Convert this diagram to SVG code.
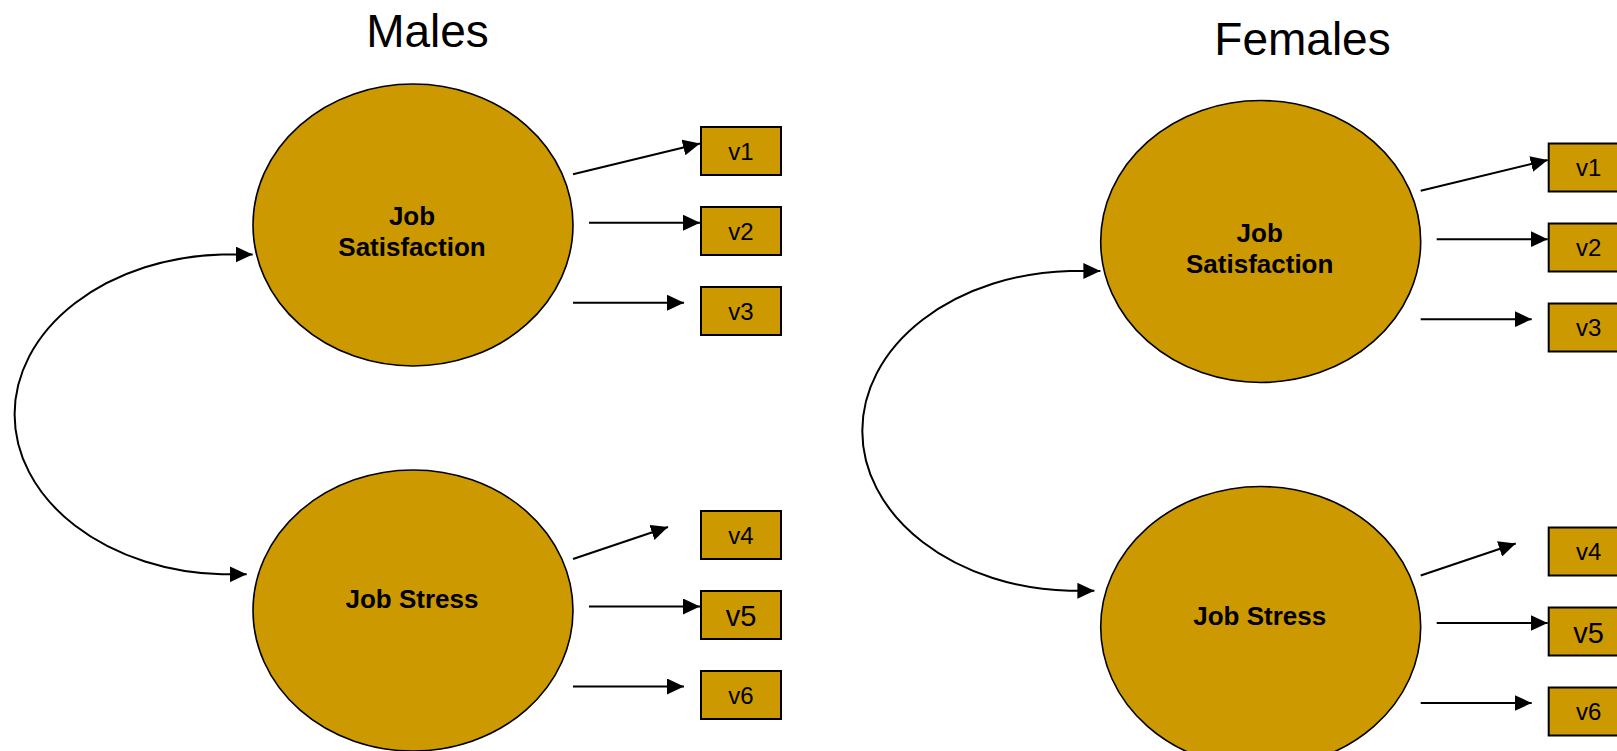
<svg xmlns="http://www.w3.org/2000/svg" width="1617" height="751" viewBox="0 0 1617 751">
  <defs>
    <marker id="ah" markerUnits="userSpaceOnUse" markerWidth="18" markerHeight="16" refX="17" refY="8" orient="auto-start-reverse">
      <path d="M0,0 L17,8 L0,16 z" fill="#000"/>
    </marker>
    <style>
      .lat { fill: #CC9900; stroke: #000; stroke-width: 1.6; }
      .box { fill: #CC9900; stroke: #000; stroke-width: 2; }
      .lbl { font-family: "Liberation Sans", Arial, sans-serif; font-weight: bold; font-size: 26px; fill: #000; text-anchor: middle; }
      .v { font-family: "Liberation Sans", Arial, sans-serif; font-size: 24px; fill: #000; text-anchor: middle; }
      .vbig { font-size: 29px; }
      .title { font-family: "Liberation Sans", Arial, sans-serif; font-size: 46px; fill: #000; text-anchor: middle; }
      .arr { fill: none; stroke: #000; stroke-width: 2; marker-end: url(#ah); }
      .cov { fill: none; stroke: #000; stroke-width: 2; marker-start: url(#ah); marker-end: url(#ah); }
    </style>
  </defs>
  <rect width="1617" height="751" fill="#fff"/>

  <text class="title" x="427.5" y="46.7">Males</text>
  <text class="title" x="1302.5" y="54.5">Females</text>

  <!-- Males panel nodes -->
  <g id="m-jobsat">
    <ellipse class="lat" cx="413" cy="225" rx="160" ry="141"/>
    <text class="lbl" x="412" y="225">Job</text>
    <text class="lbl" x="412" y="256">Satisfaction</text>
  </g>
  <g id="m-jobstress">
    <ellipse class="lat" cx="413" cy="610.5" rx="160" ry="140.5"/>
    <text class="lbl" x="412" y="608">Job Stress</text>
  </g>
  <g id="m-v1"><rect class="box" x="701" y="127" width="80" height="48"/><text class="v" x="741" y="159.5">v1</text></g>
  <g id="m-v2"><rect class="box" x="701" y="207" width="80" height="48"/><text class="v" x="741" y="239.5">v2</text></g>
  <g id="m-v3"><rect class="box" x="701" y="287" width="80" height="48"/><text class="v" x="741" y="319.5">v3</text></g>
  <g id="m-v4"><rect class="box" x="701" y="511" width="80" height="48"/><text class="v" x="741" y="543.5">v4</text></g>
  <g id="m-v5"><rect class="box" x="701" y="591" width="80" height="48"/><text class="v vbig" x="741" y="626">v5</text></g>
  <g id="m-v6"><rect class="box" x="701" y="671" width="80" height="48"/><text class="v" x="741" y="703.5">v6</text></g>

  <!-- Females panel nodes -->
  <g transform="translate(847.7,16.5)">
    <g id="f-jobsat">
      <ellipse class="lat" cx="413" cy="225" rx="160" ry="141"/>
      <text class="lbl" x="412" y="225">Job</text>
      <text class="lbl" x="412" y="256">Satisfaction</text>
    </g>
    <g id="f-jobstress">
      <ellipse class="lat" cx="413" cy="610.5" rx="160" ry="140.5"/>
      <text class="lbl" x="412" y="608">Job Stress</text>
    </g>
    <g id="f-v1"><rect class="box" x="701" y="127" width="80" height="48"/><text class="v" x="741" y="159.5">v1</text></g>
    <g id="f-v2"><rect class="box" x="701" y="207" width="80" height="48"/><text class="v" x="741" y="239.5">v2</text></g>
    <g id="f-v3"><rect class="box" x="701" y="287" width="80" height="48"/><text class="v" x="741" y="319.5">v3</text></g>
    <g id="f-v4"><rect class="box" x="701" y="511" width="80" height="48"/><text class="v" x="741" y="543.5">v4</text></g>
    <g id="f-v5"><rect class="box" x="701" y="591" width="80" height="48"/><text class="v vbig" x="741" y="626">v5</text></g>
    <g id="f-v6"><rect class="box" x="701" y="671" width="80" height="48"/><text class="v" x="741" y="703.5">v6</text></g>
  </g>

  <!-- Connectors -->
  <g id="connectors">
    <g id="m-connectors">
      <path class="cov" d="M252.7,254.5 L222,254.5 A215,160 0 0 0 222,574.3 L246.7,574.3"/>
      <line class="arr" x1="573" y1="174.3" x2="700" y2="143.5"/>
      <line class="arr" x1="589" y1="222.7" x2="700" y2="222.7"/>
      <line class="arr" x1="573" y1="302.7" x2="684" y2="302.7"/>
      <line class="arr" x1="573" y1="559" x2="668" y2="527"/>
      <line class="arr" x1="589" y1="606.5" x2="700" y2="606.5"/>
      <line class="arr" x1="573" y1="686.5" x2="684" y2="686.5"/>
    </g>
    <g id="f-connectors" transform="translate(847.7,16.5)">
      <path class="cov" d="M252.7,254.5 L222,254.5 A215,160 0 0 0 222,574.3 L246.7,574.3"/>
      <line class="arr" x1="573" y1="174.3" x2="700" y2="143.5"/>
      <line class="arr" x1="589" y1="222.7" x2="700" y2="222.7"/>
      <line class="arr" x1="573" y1="302.7" x2="684" y2="302.7"/>
      <line class="arr" x1="573" y1="559" x2="668" y2="527"/>
      <line class="arr" x1="589" y1="606.5" x2="700" y2="606.5"/>
      <line class="arr" x1="573" y1="686.5" x2="684" y2="686.5"/>
    </g>
  </g>
</svg>
